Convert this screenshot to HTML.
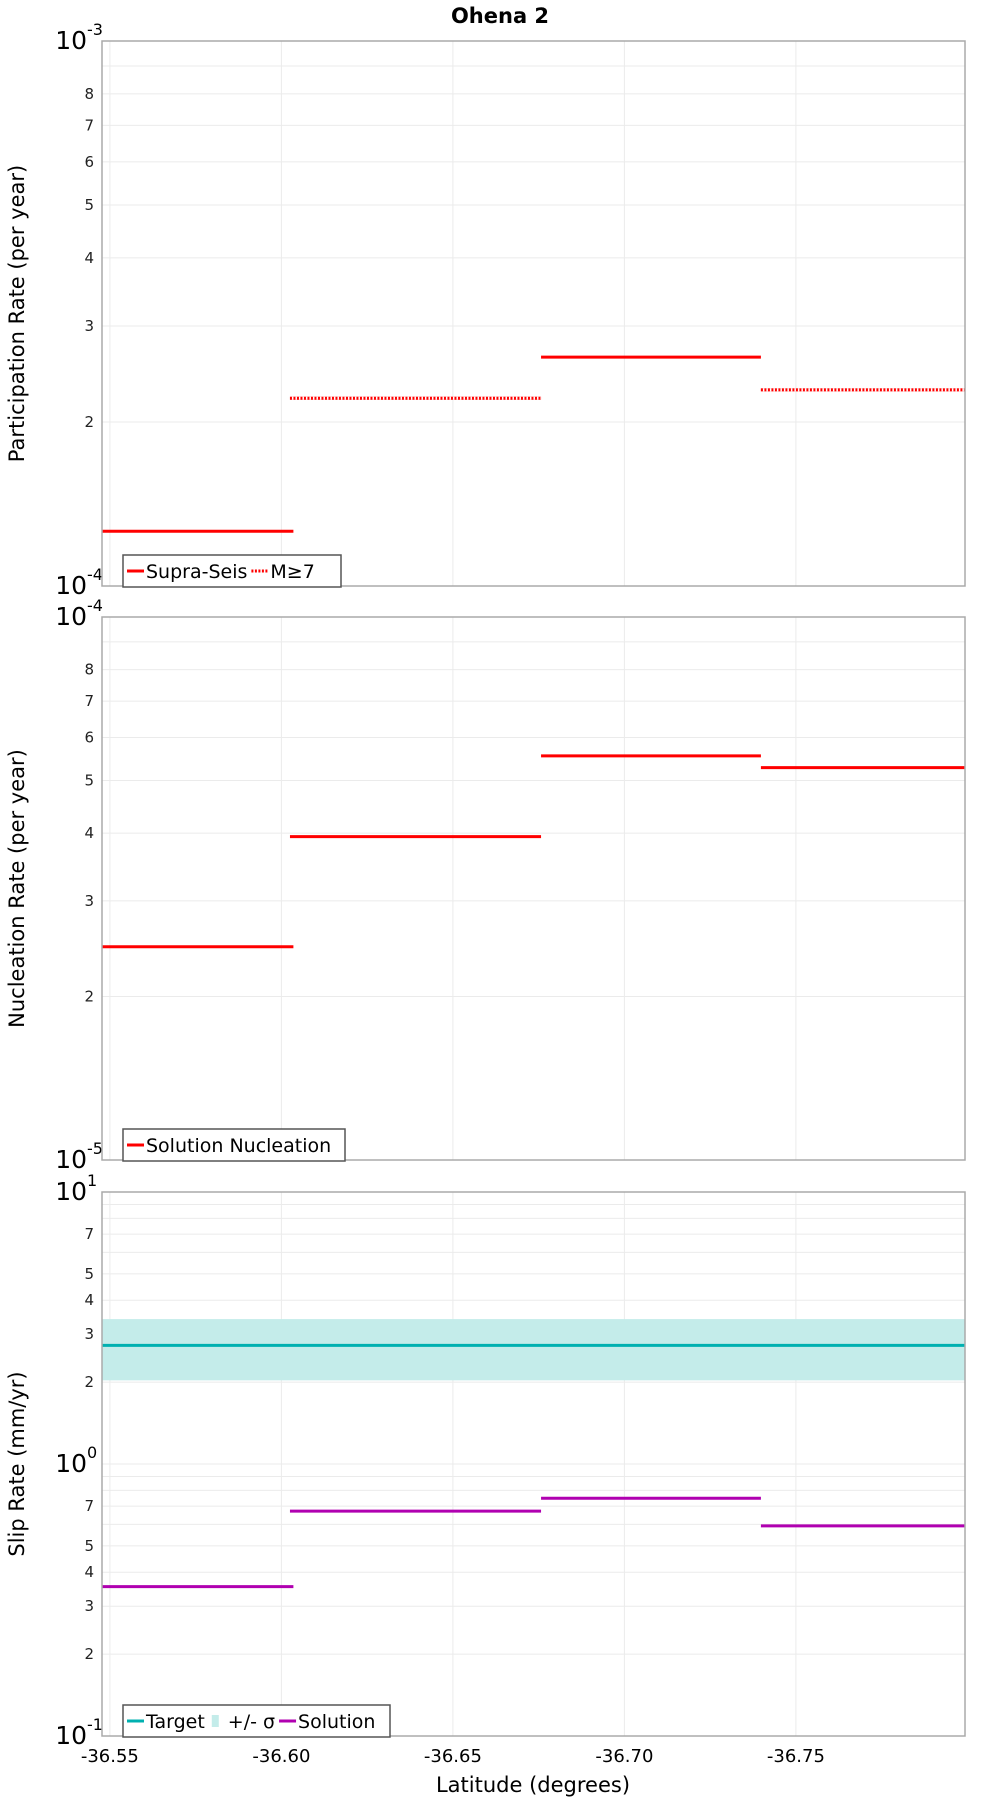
<!DOCTYPE html>
<html><head><meta charset="utf-8"><style>
body{margin:0;background:#fff;}
svg{display:block;font-family:"DejaVu Sans","Liberation Sans",sans-serif;}
</style></head><body>
<svg id="chart" width="1000" height="1800" viewBox="0 0 1000 1800">
<text x="500" y="23" text-anchor="middle" font-size="21" font-weight="bold">Ohena 2</text>
<text x="533" y="1792" text-anchor="middle" font-size="21">Latitude (degrees)</text>
</svg>
<script>
// Segment boundaries (latitude)
const segStart = [-36.5477, -36.6025, -36.6757, -36.7398];
const segEnd = [-36.6035, -36.6757, -36.7398, -36.7993];
const xTicks = [-36.55, -36.60, -36.65, -36.70, -36.75];
const xTickLabels = ["-36.55", "-36.60", "-36.65", "-36.70", "-36.75"];
// Panel 1: participation
const supraSeis = [1.26e-4, 2.21e-4, 2.63e-4, 2.29e-4];
const m7 = [null, 2.21e-4, null, 2.29e-4];
// Panel 2: nucleation
const nucleation = [2.47e-5, 3.94e-5, 5.55e-5, 5.28e-5];
// Panel 3: slip rate
const target = [2.73];
const sigmaLow = [2.03];
const sigmaHigh = [3.41];
const solution = [0.354, 0.671, 0.748, 0.592];

const svg = document.getElementById('chart');
const NS = 'http://www.w3.org/2000/svg';
const L = 102, R = 965;
const xMin = -36.5477, xMax = -36.7993;
function xs(v){ return L + (v - xMin) / (xMax - xMin) * (R - L); }
function mk(tag, attrs, parent){
  const e = document.createElementNS(NS, tag);
  for (const k in attrs) e.setAttribute(k, attrs[k]);
  (parent || svg).appendChild(e);
  return e;
}
function panel(p){
  const g = mk('g', {});
  
  
  const ys = v => p.bottom - (Math.log10(v) - p.lmin) / (p.lmax - p.lmin) * (p.bottom - p.top);
  for (let d = p.lmin; d < p.lmax; d++) {
    for (let m = 2; m <= 9; m++) {
      const y = ys(m * Math.pow(10, d));
      const gl = mk('line', {x1:L, x2:R, y1:y, y2:y, stroke:'#ebebeb', 'stroke-width':1}, g);
      
      
      if (p.labels.includes(m)) {
        const t = mk('text', {x:L-8, y:y+5, 'text-anchor':'end', 'font-size':15, fill:'#222'}, g);
        
        
        t.textContent = m;
      }
    }
    if (d > p.lmin) {
      const y = ys(Math.pow(10, d));
      mk('line', {x1:L, x2:R, y1:y, y2:y, stroke:'#ebebeb'}, g);
    }
  }
  for (let d = p.lmin; d <= p.lmax; d++) {
    const y = ys(Math.pow(10, d));
    const t = mk('text', {x:L-15, y:y+8, 'text-anchor':'end', 'font-size':25}, g);
    
    
    t.textContent = '10';
    const s = mk('text', {x:L-15, y:y-6, 'font-size':16}, g);
    
    
    s.textContent = String(d);
  }
  xTicks.forEach(v => {
    const gl = mk('line', {x1:xs(v), x2:xs(v), y1:p.top, y2:p.bottom, stroke:'#ebebeb'}, g);
    
    
  });
  p.draw(g, ys);
  const fr = mk('rect', {x:L, y:p.top, width:R-L, height:p.bottom-p.top, fill:'none', stroke:'#aaa', 'stroke-width':1.5}, g);
  
  
  const yt = mk('text', {x:0, y:0, 'text-anchor':'middle', 'font-size':21, transform:`translate(24,${(p.top+p.bottom)/2}) rotate(-90)`}, g);
  
  
  yt.textContent = p.title;
  const lg = mk('g', {}, g);
  
  
  const ly = p.bottom - 31;
  mk('rect', {x:123, y:ly, width:p.legendW, height:32, fill:'#fff', stroke:'#555', 'stroke-width':1.5}, lg);
  let lx = 127;
  p.legend.forEach(e => {
    const it = mk('g', {}, lg);
    
    
    if (e.band) mk('rect', {x:lx+3, y:ly+10, width:7, height:12, fill:e.color}, it);
    else mk('line', {x1:lx, x2:lx+17, y1:ly+16, y2:ly+16, stroke:e.color, 'stroke-width':3, 'stroke-dasharray':e.dash||'none'}, it);
    const tx = mk('text', {x:lx+19, y:ly+23, 'font-size':19}, it);
    tx.textContent = e.label;
    let w = e.w;
    try { const m = tx.getComputedTextLength(); if (m > 0) w = m + 4; } catch(err) {}
    lx += 19 + w;
  });
}
function seg(g, vals, ys, color, name, dash){
  vals.forEach((v, i) => {
    if (v == null) return;
    if (dash) {
      const bg = mk('line', {x1:xs(segStart[i]), x2:xs(segEnd[i]), y1:ys(v), y2:ys(v), stroke:'#fff', 'stroke-width':3}, g);
      
      
    }
    const ln = mk('line', {x1:xs(segStart[i]), x2:xs(segEnd[i]), y1:ys(v), y2:ys(v), stroke:color, 'stroke-width':3, 'stroke-dasharray':dash||'none'}, g);
    
    
  });
}
panel({name:'participation-panel', top:41, bottom:586, lmin:-4, lmax:-3, labels:[2,3,4,5,6,7,8],
  title:'Participation Rate (per year)', legendW:218,
  legend:[{label:'Supra-Seis', color:'#f00', w:108},{label:'M≥7', color:'#f00', dash:'2,1.5', w:50}],
  draw:(g, ys)=>{ seg(g, supraSeis, ys, '#f00', 'supra-seis'); seg(g, m7, ys, '#f00', 'm7', '2,1.5'); }});
panel({name:'nucleation-panel', top:617, bottom:1160, lmin:-5, lmax:-4, labels:[2,3,4,5,6,7,8],
  title:'Nucleation Rate (per year)', legendW:222,
  legend:[{label:'Solution Nucleation', color:'#f00', w:190}],
  draw:(g, ys)=>{ seg(g, nucleation, ys, '#f00', 'nucleation'); }});
panel({name:'slip-rate-panel', top:1192, bottom:1736, lmin:-1, lmax:1, labels:[2,3,4,5,7],
  title:'Slip Rate (mm/yr)', legendW:267,
  legend:[{label:'Target', color:'#00b0b0', w:62},{label:'+/- σ', color:'#c4ecea', band:true, w:49},{label:'Solution', color:'#b000b0', w:90}],
  draw:(g, ys)=>{
    const b = mk('rect', {x:L, y:ys(sigmaHigh[0]), width:R-L, height:ys(sigmaLow[0])-ys(sigmaHigh[0]), fill:'#c4ecea'}, g);
    
    
    const t = mk('line', {x1:L, x2:R, y1:ys(target[0]), y2:ys(target[0]), stroke:'#00b0b0', 'stroke-width':3}, g);
    
    
    seg(g, solution, ys, '#b000b0', 'solution');
  }});
xTicks.forEach((v, i) => {
  const t = mk('text', {x:xs(v), y:1762, 'text-anchor':'middle', 'font-size':18});
  
  
  t.textContent = xTickLabels[i];
});
</script>
</body></html>
